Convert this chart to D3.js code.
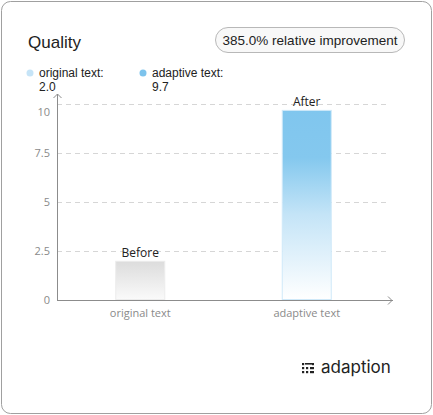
<!DOCTYPE html>
<html>
<head>
<meta charset="utf-8">
<script src="https://cdn.jsdelivr.net/npm/d3@7"></script>
<style>
  body { margin: 0; background: #fff; }
  svg { display: block; }
</style>
</head>
<body>
<div id="chart"></div>
<script>
// chart data
var categories = ["original text", "adaptive text"];
var values = [2.0, 9.7];
var barLabels = ["Before", "After"];
var yTicks = [0, 2.5, 5, 7.5, 10];
var title = "Quality";
var badge = "385.0% relative improvement";

var svgWidth = 433;
var svgHeight = 415;

var margin = { top: 104, right: 43, bottom: 115, left: 57 };
var width = svgWidth - margin.left - margin.right;
var height = svgHeight - margin.top - margin.bottom;

var svg = d3.select("#chart")
  .append("svg")
  .attr("width", svgWidth)
  .attr("height", svgHeight);

// gradients for the bars
var defs = svg.append("defs");
var gBefore = defs.append("linearGradient").attr("id", "gBefore")
  .attr("x1", 0).attr("y1", 0).attr("x2", 0).attr("y2", 1);
gBefore.append("stop").attr("offset", "0%").attr("stop-color", "#dcdcdc");
gBefore.append("stop").attr("offset", "100%").attr("stop-color", "#fafafa");

var gAfter = defs.append("linearGradient").attr("id", "gAfter")
  .attr("x1", 0).attr("y1", 0).attr("x2", 0).attr("y2", 1);
gAfter.append("stop").attr("offset", "0%").attr("stop-color", "#80c6ee");
gAfter.append("stop").attr("offset", "25%").attr("stop-color", "#84c8ee");
gAfter.append("stop").attr("offset", "55%").attr("stop-color", "#c4e4f7");
gAfter.append("stop").attr("offset", "100%").attr("stop-color", "#ffffff");

// card
svg.append("rect")
  .attr("x", 1.5).attr("y", 1.5)
  .attr("width", svgWidth - 3).attr("height", svgHeight - 3)
  .attr("rx", 9)
  .attr("fill", "#fff")
  .attr("stroke", "#a0a0a0");

svg.append("text")
  .attr("x", 28).attr("y", 48)
  .attr("font-family", "Liberation Sans, Arial, sans-serif")
  .attr("font-size", 17)
  .attr("fill", "#222")
  .text(title);

// badge
svg.append("rect")
  .attr("x", 215.5).attr("y", 27.5)
  .attr("width", 189).attr("height", 25)
  .attr("rx", 12.5)
  .attr("fill", "#f8f8f8")
  .attr("stroke", "#b8b8b8");
svg.append("text")
  .attr("x", 310).attr("y", 45)
  .attr("text-anchor", "middle")
  .attr("font-family", "Liberation Sans, Arial, sans-serif")
  .attr("font-size", 13.5)
  .attr("fill", "#222")
  .text(badge);

// legend
var legendColors = ["#c6e4f7", "#7dc3ec"];
var legendX = [30, 143];
categories.forEach(function(c, i) {
  svg.append("circle")
    .attr("cx", legendX[i]).attr("cy", 73).attr("r", 3.5)
    .attr("fill", legendColors[i]);
  svg.append("text")
    .attr("x", legendX[i] + 9).attr("y", 77)
    .attr("font-family", "Liberation Sans, Arial, sans-serif")
    .attr("font-size", 12)
    .attr("fill", "#222")
    .text(c + ":");
  svg.append("text")
    .attr("x", legendX[i] + 9).attr("y", 91)
    .attr("font-family", "Liberation Sans, Arial, sans-serif")
    .attr("font-size", 12)
    .attr("fill", "#222")
    .text(values[i].toFixed(1));
});

var g = svg.append("g")
  .attr("transform", `translate(${margin.left}, ${margin.top})`);

var xScale = d3.scaleBand()
  .domain(categories)
  .range([0, 333])
  .paddingInner(0)
  .paddingOuter(0);

var yScale = d3.scaleLinear()
  .domain([0, 10])
  .range([height + 0, 0]);

// gridlines
g.selectAll(".grid")
  .data(yTicks.filter(d => d > 0))
  .enter()
  .append("line")
  .attr("x1", 0).attr("x2", 333)
  .attr("y1", d => Math.round(yScale(d)) + 0.5)
  .attr("y2", d => Math.round(yScale(d)) + 0.5)
  .attr("stroke", "#d6d6d6")
  .attr("stroke-dasharray", "5,4");

// y tick labels (top one nudged down under the legend)
g.selectAll(".ylab")
  .data(yTicks)
  .enter()
  .append("text")
  .attr("x", -7)
  .attr("y", d => yScale(d) + 4 + (d === 10 ? 8 : 0))
  .attr("text-anchor", "end")
  .attr("font-family", "Open Sans, sans-serif")
  .attr("font-size", 11)
  .attr("fill", "#8a8a8a")
  .text(d => d);

// bars
var barW = 50;
g.selectAll(".bar")
  .data(values)
  .enter()
  .append("rect")
  .attr("x", (d, i) => xScale(categories[i]) + xScale.bandwidth() / 2 - barW / 2 + 0.5)
  .attr("y", d => yScale(d) + 0.5)
  .attr("width", barW - 1)
  .attr("height", d => height - yScale(d) - 1)
  .attr("fill", (d, i) => i === 0 ? "url(#gBefore)" : "url(#gAfter)")
  .attr("stroke", (d, i) => i === 0 ? "#ececec" : "#cfe9f9");

g.selectAll(".blab")
  .data(values)
  .enter()
  .append("text")
  .attr("x", (d, i) => xScale(categories[i]) + xScale.bandwidth() / 2)
  .attr("y", d => yScale(d) - 4)
  .attr("text-anchor", "middle")
  .attr("font-family", "Open Sans, sans-serif")
  .attr("font-size", 12)
  .attr("fill", "#222")
  .text((d, i) => barLabels[i]);

// x labels
g.selectAll(".xlab")
  .data(categories)
  .enter()
  .append("text")
  .attr("x", d => xScale(d) + xScale.bandwidth() / 2)
  .attr("y", height + 17)
  .attr("text-anchor", "middle")
  .attr("font-family", "Open Sans, sans-serif")
  .attr("font-size", 11)
  .attr("fill", "#8a8a8a")
  .text(d => d);

// axes with arrows
var axisColor = "#8c8c8c";
g.append("line")
  .attr("x1", 0.5).attr("x2", 0.5)
  .attr("y1", height).attr("y2", -10)
  .attr("stroke", axisColor);
g.append("path")
  .attr("d", "M-3.5,-6 L0.5,-10 L4.5,-6")
  .attr("fill", "none").attr("stroke", axisColor);
g.append("line")
  .attr("x1", 0).attr("x2", 336)
  .attr("y1", height + 0.5).attr("y2", height + 0.5)
  .attr("stroke", axisColor);
g.append("path")
  .attr("d", `M331,${height - 3.5} L335,${height + 0.5} L331,${height + 4.5}`)
  .attr("fill", "none").attr("stroke", axisColor);

// logo
var logo = svg.append("g").attr("fill", "#222");
[[302, 363], [302, 367], [306, 367], [310, 367], [302, 371], [306, 371], [310, 371]].forEach(function(p) {
  logo.append("rect").attr("x", p[0]).attr("y", p[1]).attr("width", 2.2).attr("height", 2.2);
});
logo.append("rect").attr("x", 305).attr("y", 363).attr("width", 8).attr("height", 1.6);
logo.append("rect").attr("x", 312).attr("y", 363).attr("width", 2).attr("height", 2.2);
logo.append("rect").attr("x", 312).attr("y", 367).attr("width", 2).attr("height", 2.2);
logo.append("rect").attr("x", 312).attr("y", 371).attr("width", 2).attr("height", 2.2);
svg.append("text")
  .attr("x", 321).attr("y", 373)
  .attr("font-family", "Inter, Roboto, sans-serif")
  .attr("font-size", 17)
  .attr("fill", "#222")
  .text("adaption");
</script>
</body>
</html>
